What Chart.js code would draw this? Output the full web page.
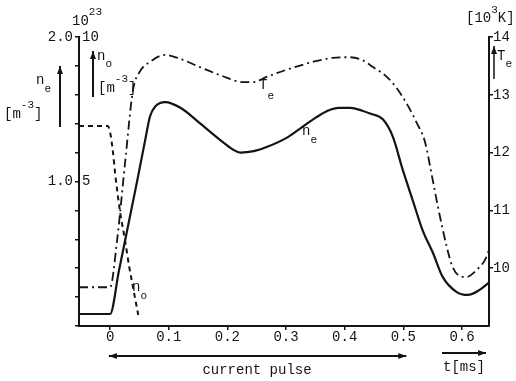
<!DOCTYPE html>
<html><head><meta charset="utf-8">
<script src="https://cdn.jsdelivr.net/npm/chart.js@4"></script>
<style>html,body{margin:0;padding:0;background:#fff}canvas{display:block}</style>
</head><body>
<canvas id="c" width="516" height="381"></canvas>
<script>
// time axis [ms]
const tNe = [-0.053,0,0.015,0.03,0.045,0.06,0.068,0.077,0.094,0.12,0.154,0.19,0.21,0.222,0.245,0.268,0.30,0.325,0.35,0.371,0.39,0.41,0.43,0.443,0.465,0.482,0.499,0.516,0.533,0.55,0.567,0.591,0.61,0.63,0.646];
const ne  = [0.083,0.083,0.38,0.68,0.98,1.29,1.45,1.52,1.55,1.51,1.40,1.28,1.22,1.20,1.21,1.24,1.30,1.37,1.44,1.49,1.51,1.51,1.49,1.47,1.43,1.31,1.08,0.87,0.66,0.51,0.34,0.235,0.215,0.25,0.30];
const tTe = [-0.053,0,0.012,0.026,0.039,0.05,0.068,0.094,0.12,0.153,0.19,0.227,0.245,0.267,0.30,0.346,0.38,0.409,0.43,0.448,0.474,0.499,0.523,0.537,0.549,0.559,0.574,0.584,0.601,0.608,0.625,0.639,0.646];
const Te  = [9.67,9.67,10.49,11.87,13.08,13.39,13.57,13.69,13.62,13.48,13.33,13.22,13.22,13.31,13.43,13.57,13.64,13.65,13.60,13.48,13.29,12.96,12.51,12.18,11.58,11.06,10.37,10.02,9.85,9.85,9.97,10.14,10.31];
const tNo = [-0.053,-0.004,0,0.005,0.0085,0.017,0.026,0.033,0.039,0.048];
const no  = [6.92,6.92,6.71,6.0,5.3,3.95,2.9,2.0,1.35,0.38];

const xTicks = [0,0.1,0.2,0.3,0.4,0.5,0.6];
const xTickLabels = ['0','0.1','0.2','0.3','0.4','0.5','0.6'];
const neTicks = [1.0,2.0];
const neTickLabels = ['1.0','2.0'];
const noTickLabels = ['5','10'];
const teTicks = [10,11,12,13,14];
const teTickLabels = ['10','11','12','13','14'];

const INK = '#141414';
const FONT = '"Liberation Mono", "DejaVu Sans Mono", monospace';
const pts = (xs, ys) => xs.map((x,i)=>({x, y: ys[i]}));

function txt(ctx, s, x, y, size, align){
  ctx.font = size + 'px ' + FONT;
  ctx.textAlign = align || 'left';
  ctx.textBaseline = 'middle';
  ctx.fillText(s, x, y);
  return x + ctx.measureText(s).width;
}
function unit(ctx, x, y){ // [m^-3]
  let e = txt(ctx, '[m', x, y, 14);
  e = txt(ctx, '-3', e, y - 9, 11);
  txt(ctx, ']', e, y, 14);
}
function arrow(ctx, x1, y1, x2, y2, both){
  ctx.beginPath(); ctx.moveTo(x1,y1); ctx.lineTo(x2,y2); ctx.stroke();
  const head = (xa,ya,xb,yb)=>{
    const a = Math.atan2(yb-ya, xb-xa), L = 8, W = 3;
    ctx.beginPath();
    ctx.moveTo(xb,yb);
    ctx.lineTo(xb - L*Math.cos(a) + W*Math.sin(a), yb - L*Math.sin(a) - W*Math.cos(a));
    ctx.lineTo(xb - L*Math.cos(a) - W*Math.sin(a), yb - L*Math.sin(a) + W*Math.cos(a));
    ctx.closePath(); ctx.fill();
  };
  head(x1,y1,x2,y2);
  if (both) head(x2,y2,x1,y1);
}

const annot = {
  id: 'annot',
  afterDraw(chart){
    const ctx = chart.ctx, x = chart.scales.x, y = chart.scales.y, y2 = chart.scales.y2;
    ctx.save();
    ctx.fillStyle = INK; ctx.strokeStyle = INK; ctx.lineWidth = 2;
    // x tick labels
    xTicks.forEach((v,i)=> txt(ctx, xTickLabels[i], x.getPixelForValue(v), 337, 14, 'center'));
    // left tick labels
    neTicks.forEach((v,i)=>{
      const py = y.getPixelForValue(v);
      txt(ctx, neTickLabels[i], 73, py, 14, 'right');
      txt(ctx, noTickLabels[i], 82, py, 14, 'left');
    });
    // right tick labels
    teTicks.forEach((v,i)=> txt(ctx, teTickLabels[i], 493, y2.getPixelForValue(v), 14, 'left'));
    // 10^23
    let e = txt(ctx, '10', 72, 21, 14);
    txt(ctx, '23', e, 12, 11);
    // n_e axis label
    e = txt(ctx, 'n', 36, 80, 14);
    txt(ctx, 'e', e, 89, 11);
    unit(ctx, 4, 114);
    arrow(ctx, 60, 127, 60, 66);
    // n_o axis label
    e = txt(ctx, 'n', 97, 56, 14);
    txt(ctx, 'o', e, 64, 11);
    unit(ctx, 98, 88);
    arrow(ctx, 93, 97, 93, 51);
    // right axis unit
    e = txt(ctx, '[10', 466, 18, 14);
    e = txt(ctx, '3', e, 10, 11);
    txt(ctx, 'K]', e, 18, 14);
    e = txt(ctx, 'T', 497, 56, 14);
    txt(ctx, 'e', e, 64, 11);
    ctx.lineWidth = 1.5;
    arrow(ctx, 494, 79, 494, 46);
    ctx.lineWidth = 2;
    // curve labels
    e = txt(ctx, 'T', 259, 85, 14); txt(ctx, 'e', e, 96, 11);
    e = txt(ctx, 'n', 302, 131, 14); txt(ctx, 'e', e, 140, 11);
    e = txt(ctx, 'n', 132, 287, 14); txt(ctx, 'o', e, 296, 11);
    // current pulse
    arrow(ctx, x.getPixelForValue(0.505), 356, x.getPixelForValue(-0.002), 356, true);
    txt(ctx, 'current pulse', 257, 370, 14, 'center');
    // time arrow
    arrow(ctx, 442, 353, 486, 353);
    txt(ctx, 't[ms]', 443, 367, 14);
    ctx.restore();
  }
};

const axisCommon = {
  grid: { display: true, drawOnChartArea: false, drawTicks: true, tickLength: 4, color: INK, lineWidth: 1.5 },
  border: { display: true, color: INK, width: 2 },
  ticks: { display: false }
};

new Chart(document.getElementById('c'), {
  type: 'line',
  data: { datasets: [
    { label: 'n_e', data: pts(tNe, ne), yAxisID: 'y', borderColor: INK, borderWidth: 2.2, pointRadius: 0, cubicInterpolationMode: 'monotone', fill: false },
    { label: 'T_e', data: pts(tTe, Te), yAxisID: 'y2', borderColor: INK, borderWidth: 1.8, borderDash: [9,4,2,4], pointRadius: 0, cubicInterpolationMode: 'monotone', fill: false },
    { label: 'n_o', data: pts(tNo, no), yAxisID: 'yo', borderColor: INK, borderWidth: 2, borderDash: [5,4], pointRadius: 0, cubicInterpolationMode: 'monotone', fill: false }
  ]},
  options: {
    responsive: false, animation: false, devicePixelRatio: 1,
    layout: { padding: { top: 37, left: 0, right: 0, bottom: 0 } },
    plugins: { legend: { display: false }, tooltip: { enabled: false } },
    scales: {
      x: Object.assign({}, axisCommon, { type: 'linear', min: -0.053, max: 0.646,
        afterBuildTicks: s => { s.ticks = xTicks.map(v => ({ value: v })); },
        afterFit: s => { s.height = 55; } }),
      y: Object.assign({}, axisCommon, { position: 'left', min: 0, max: 2,
        afterBuildTicks: s => { const a=[]; for (let i=0;i<=10;i++) a.push({value: i*0.2}); s.ticks = a; },
        afterFit: s => { s.width = 79; } }),
      y2: Object.assign({}, axisCommon, { position: 'right', min: 9, max: 14,
        afterBuildTicks: s => { s.ticks = teTicks.map(v => ({ value: v })); },
        afterFit: s => { s.width = 27; } }),
      yo: { display: false, min: 0, max: 10 }
    }
  },
  plugins: [annot]
});
</script>
</body></html>
